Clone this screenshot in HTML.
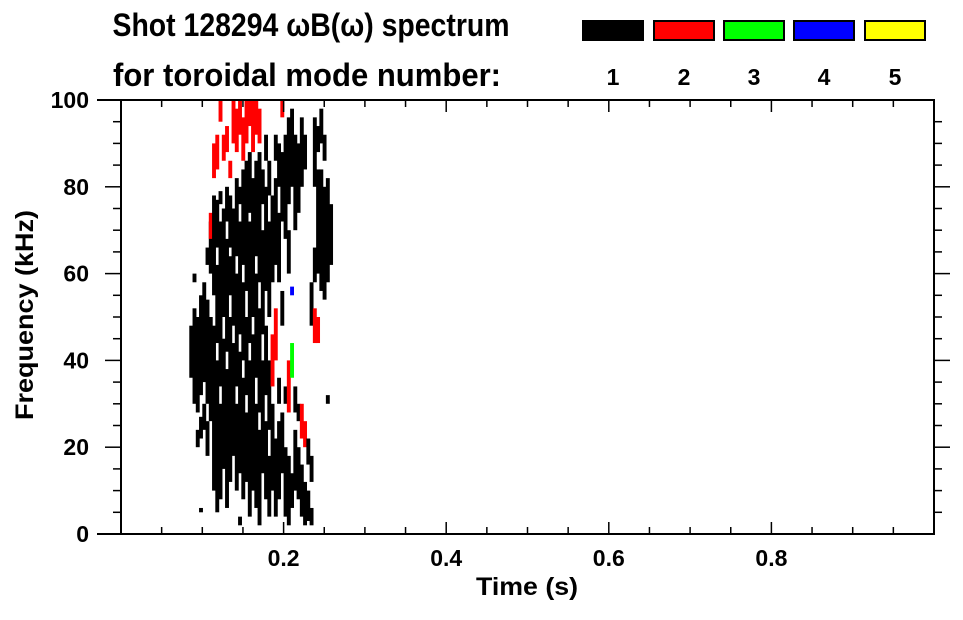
<!DOCTYPE html>
<html><head><meta charset="utf-8"><style>
body{margin:0;background:#fff;}
svg text{font-family:"Liberation Sans",sans-serif;font-weight:bold;fill:#000;}
</style></head><body>
<svg id="chart" width="963" height="615" viewBox="0 0 963 615" xmlns="http://www.w3.org/2000/svg">
<text x="311" y="36" font-size="32" text-anchor="middle" textLength="397" lengthAdjust="spacingAndGlyphs">Shot 128294 ωB(ω) spectrum</text>
<text x="307" y="86" font-size="32" text-anchor="middle" textLength="388" lengthAdjust="spacingAndGlyphs">for toroidal mode number:</text>
<g id="legend"></g>
<g id="cells"></g>
<g id="axes"></g>
<text x="527" y="595" font-size="25" text-anchor="middle" textLength="102" lengthAdjust="spacingAndGlyphs">Time (s)</text>
<text transform="translate(33,315) rotate(-90)" font-size="25" text-anchor="middle" textLength="210" lengthAdjust="spacingAndGlyphs">Frequency (kHz)</text>
</svg>
<script>
const modeLabels=["1","2","3","4","5"];
const modeColors=["#000000","#ff0000","#00ff00","#0000ff","#ffff00"];
const xTicks=[0.2,0.4,0.6,0.8];
const xTickLabels=["0.2","0.4","0.6","0.8"];
const yTicks=[0,20,40,60,80,100];
const yTickLabels=["0","20","40","60","80","100"];
const colTimes=[0.084,0.088,0.092,0.096,0.100,0.104,0.108,0.112,0.116,0.120,0.124,0.128,0.132,0.136,0.140,0.144,0.148,0.152,0.156,0.160,0.164,0.168,0.172,0.176,0.180,0.184,0.188,0.192,0.196,0.200,0.204,0.208,0.212,0.216,0.220,0.224,0.228,0.232,0.236,0.240,0.244,0.248,0.252,0.256];
const colSegs=[
[[36,48,1]],
[[30,52,1],[58,60,1]],
[[28,50,1],[20,24,1]],
[[32,55,1],[22,27,1],[5,6,1]],
[[35,58,1],[24,30,1]],
[[30,54,1],[18,26,1],[62,66,1]],
[[26,50,1],[60,72,1],[68,74,2]],
[[10,48,1],[55,78,1],[82,90,2]],
[[5,40,1],[44,62,1],[66,77,1],[84,92,2]],
[[8,30,1],[34,72,1],[76,79,1],[95,100,2]],
[[15,45,1],[50,75,1],[86,92,2]],
[[6,38,1],[42,68,1],[72,80,1],[88,94,2]],
[[12,50,1],[55,64,1],[66,78,1],[82,86,2]],
[[18,44,1],[48,75,1],[90,100,2]],
[[10,30,1],[34,60,1],[64,82,1],[88,98,2]],
[[2,4,1],[14,42,1],[46,72,1],[76,80,1],[92,100,2]],
[[8,36,1],[40,58,1],[62,84,1],[86,96,2]],
[[12,28,1],[32,50,1],[56,86,1],[90,100,2]],
[[4,40,1],[44,72,1],[74,88,1],[94,100,2]],
[[10,46,1],[50,82,1],[88,100,2]],
[[6,30,1],[36,60,1],[64,86,1],[92,100,2]],
[[2,24,1],[28,52,1],[58,88,1],[90,98,2]],
[[14,40,1],[46,70,1],[76,84,1]],
[[8,26,1],[32,48,1],[56,80,1],[86,92,1]],
[[4,18,1],[24,40,1],[50,72,1],[78,86,1]],
[[10,30,1],[34,46,2],[58,78,1]],
[[4,22,1],[40,52,2],[62,82,1],[86,92,1]],
[[8,26,1],[30,36,1],[58,74,1],[80,90,1]],
[[14,28,1],[48,56,1],[72,88,1],[96,100,2]],
[[4,20,1],[30,34,1],[68,92,1]],
[[2,18,1],[28,40,2],[60,70,1],[76,96,1]],
[[6,14,1],[36,44,3],[55,57,4],[80,98,1]],
[[10,24,1],[28,34,1],[70,92,1]],
[[8,20,1],[26,30,1],[74,90,1]],
[[4,16,1],[22,30,2],[80,96,1]],
[[2,12,1],[20,26,2],[84,92,1]],
[[3,10,1],[16,22,1]],
[[2,6,1],[12,18,1],[48,58,1]],
[[44,52,2],[58,66,1],[80,96,1]],
[[44,50,2],[60,84,1],[88,94,1]],
[[56,84,1],[90,98,1]],
[[54,80,1],[86,92,1]],
[[58,82,1],[30,32,1]],
[[62,76,1]]
];
const NS="http://www.w3.org/2000/svg";
const L=121,R=934,T=100,B=534;
function xs(t){return L+(t-0)/(1-0)*(R-L);}
function ys(f){return B-(f-0)/(100-0)*(B-T);}
function mk(tag,attrs,parent){const e=document.createElementNS(NS,tag);for(const k in attrs)e.setAttribute(k,attrs[k]);parent.appendChild(e);return e;}
const cells=document.getElementById('cells');
const dt=0.0048;
colTimes.forEach((t,i)=>{colSegs[i].forEach(s=>{
 const r=mk('rect',{x:xs(t),y:ys(s[1]),width:xs(t+dt)-xs(t),height:ys(s[0])-ys(s[1]),fill:modeColors[s[2]-1]},cells);
 
 
});});
const legend=document.getElementById('legend');
const swX=[582,653,723,793,864];
modeLabels.forEach((m,i)=>{
 const r=mk('rect',{x:swX[i]+1,y:21,width:60,height:19,fill:modeColors[i],stroke:'#000','stroke-width':2},legend);
 
 
 const tx=mk('text',{x:swX[i]+31,y:85,'font-size':23,'text-anchor':'middle'},legend);
 tx.textContent=m;
 
 
});
const axes=document.getElementById('axes');
mk('rect',{x:L,y:T,width:R-L,height:B-T,fill:'none',stroke:'#000','stroke-width':2},axes);
mk('line',{x1:97,y1:T,x2:L,y2:T,stroke:'#000','stroke-width':2},axes);
mk('line',{x1:97,y1:B,x2:L,y2:B,stroke:'#000','stroke-width':2},axes);
for(let k=1;k<20;k++){const t=k*0.05;const x=xs(t);const len=(k%4===0)?12:7;
 mk('line',{x1:x,y1:B,x2:x,y2:B-len,stroke:'#000','stroke-width':1.5},axes);
 mk('line',{x1:x,y1:T,x2:x,y2:T+len,stroke:'#000','stroke-width':1.5},axes);}
for(let k=1;k<20;k++){const f=k*5;const y=ys(f);const len=(k%4===0)?16:8;
 mk('line',{x1:L-len,y1:y,x2:L,y2:y,stroke:'#000','stroke-width':1.5},axes);
 mk('line',{x1:R,y1:y,x2:R+len,y2:y,stroke:'#000','stroke-width':1.5},axes);}
xTicks.forEach((t,i)=>{const tx=mk('text',{x:xs(t),y:566,'font-size':23,'text-anchor':'middle'},axes);
 tx.textContent=xTickLabels[i];
 
 });
yTicks.forEach((f,i)=>{const tx=mk('text',{x:89,y:ys(f)+8,'font-size':23,'text-anchor':'end'},axes);
 tx.textContent=yTickLabels[i];
 
 });
</script>
</body></html>
